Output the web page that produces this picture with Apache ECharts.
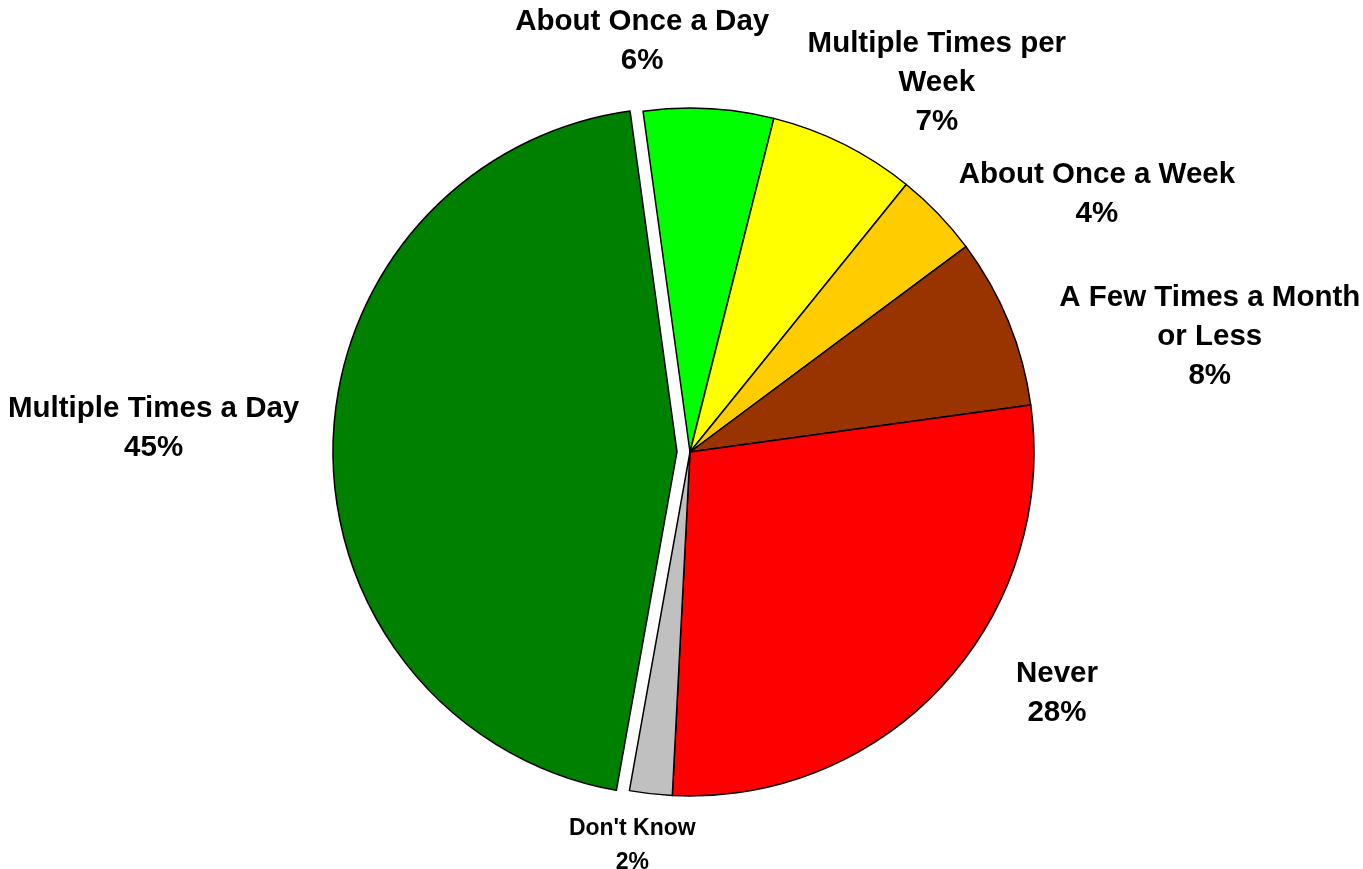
<!DOCTYPE html>
<html><head><meta charset="utf-8">
<script src="https://cdn.jsdelivr.net/npm/echarts@6/dist/echarts.min.js"></script>
<style>html,body{margin:0;padding:0;background:#fff}#chart{width:1363px;height:869px}</style>
</head><body><div id="chart"></div>
<script>
const categories = ['About Once a Day', 'Multiple Times per\nWeek', 'About Once a Week', 'A Few Times a Month\nor Less', 'Never', "Don't Know", 'Multiple Times a Day'];
const values = [6.1, 6.9, 4.0, 8.0, 28.0, 2.0, 45.0];
const colors = ['#00FF00', '#FFFF00', '#FFCC00', '#993300', '#FF0000', '#C0C0C0', '#008000'];
const explodedIndex = 6;
const smallLabelIndex = 5;

// label placement, polar around the pie centre: degrees clockwise from 12 o'clock, px distance
const labelAngle = [-6.6, 33.6, 57.4, 77.2, 123.1, 188.4, 272.8];
const labelDist = [416, 446, 483, 533, 438, 395, 537];
const CX = 690, CY = 452, R = 344;
const LABEL_SHIFT_Y = 2.5;    // baseline correction for text block
const START = 97.85;          // echarts startAngle (deg, ccw from 3 o'clock)
const EXPLODE = 13;           // px offset of the exploded slice

// mid angle of exploded slice, computed from the data
const total = values.reduce((a, b) => a + b, 0);
const before = values.slice(0, explodedIndex).reduce((a, b) => a + b, 0);
const midCW = (90 - START) + (before + values[explodedIndex] / 2) / total * 360; // clockwise from 12 o'clock
const mr = midCW * Math.PI / 180;
const ex = EXPLODE * Math.sin(mr), ey = -EXPLODE * Math.cos(mr);

const chart = echarts.init(document.getElementById('chart'), null, {renderer: 'canvas'});

const hidden = {color: 'rgba(0,0,0,0)', borderWidth: 0, borderColor: 'rgba(0,0,0,0)'};
const mainData = categories.map((name, i) => {
  const item = {name: name, value: values[i], itemStyle: i === explodedIndex ? hidden : {color: colors[i]}};
  if (i === smallLabelIndex) item.label = {fontSize: 23, lineHeight: 34};
  return item;
});
const explodedData = categories.map((name, i) => ({
  name: name, value: values[i],
  itemStyle: i === explodedIndex ? {color: colors[i]} : hidden
}));

const common = {
  type: 'pie',
  radius: R,
  startAngle: START,
  clockwise: true,
  avoidLabelOverlap: false,
  itemStyle: {borderColor: '#000', borderWidth: 1.5},
  emphasis: {disabled: true},
  labelLine: {show: false}
};

chart.setOption({
  animation: false,
  backgroundColor: '#fff',
  series: [
    Object.assign({}, common, {
      center: [CX + ex, CY + ey],
      data: explodedData,
      label: {show: false},
      z: 1
    }),
    Object.assign({}, common, {
      center: [CX, CY],
      data: mainData,
      z: 2,
      label: {
        show: true,
        position: 'outside',
        formatter: p => p.name + '\n' + Math.round(p.percent) + '%',
        fontFamily: '"Liberation Sans", Arial, sans-serif',
        fontWeight: 'bold',
        fontSize: 29.5,
        lineHeight: 39,
        color: '#000',
        align: 'center'
      },
      labelLayout: function (params) {
        const i = params.dataIndex;
        const a = labelAngle[i] * Math.PI / 180;
        return {
          x: CX + labelDist[i] * Math.sin(a),
          y: CY - labelDist[i] * Math.cos(a) + LABEL_SHIFT_Y,
          align: 'center',
          verticalAlign: 'middle'
        };
      }
    })
  ]
});
</script></body></html>
